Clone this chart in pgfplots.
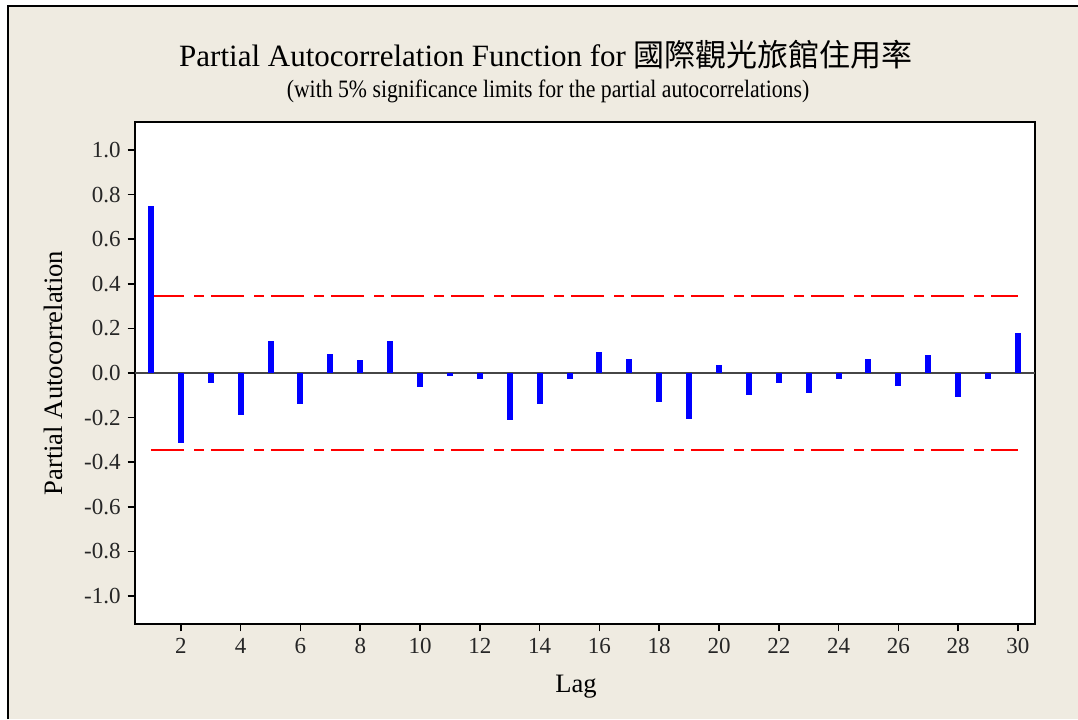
\documentclass[border=0pt]{standalone}
\usepackage{pgfplots}
\pgfplotsset{compat=1.18}
\usepackage{pgfplotstable}
\usepackage{fontspec}
\setmainfont{Liberation Serif}
\newfontfamily\cjk{Noto Sans CJK TC}
\definecolor{bgbeige}{RGB}{239,235,225}
\definecolor{barblue}{RGB}{0,0,255}
\definecolor{limred}{RGB}{255,0,0}
\pgfplotstableread{
lag pacf
1 0.750
2 -0.315
3 -0.043
4 -0.188
5 0.145
6 -0.138
7 0.087
8 0.060
9 0.145
10 -0.063
11 -0.013
12 -0.029
13 -0.213
14 -0.139
15 -0.029
16 0.096
17 0.062
18 -0.131
19 -0.206
20 0.036
21 -0.097
22 -0.046
23 -0.088
24 -0.028
25 0.062
26 -0.057
27 0.079
28 -0.106
29 -0.028
30 0.178
}\pacf
\begin{document}
\begin{tikzpicture}
\useasboundingbox (-67.5pt,-47.5pt) rectangle (471.5pt,312pt);
\fill[white] (-67.5pt,-47.5pt) rectangle (471.5pt,312pt);
\fill[bgbeige] (-63.5pt,-47.5pt) rectangle (471.5pt,309pt);
\draw[black, line width=1pt] (-63.5pt,-47.5pt) -- (-63.5pt,309pt) -- (471.5pt,309pt);
\node[anchor=base, font=\fontsize{15.5}{18}\selectfont] at (205.5pt,278.5pt)
  {Partial Autocorrelation Function for {\cjk 國際觀光旅館住用率}};
\node[anchor=base] at (206.5pt,263pt)
  {\scalebox{0.87}[1]{\fontsize{12.5}{15}\selectfont (with 5\% significance limits for the partial autocorrelations)}};
\begin{axis}[
  at={(0,0)}, anchor=south west,
  scale only axis, width=450pt, height=251pt,
  xmin=0.465, xmax=30.57, ymin=-1.1256, ymax=1.1256,
  axis background/.style={fill=white},
  axis line style={black, line width=1pt},
  tick align=outside, xtick pos=bottom, ytick pos=left,
  major tick length=3.7pt,
  every tick/.style={black, line width=0.8pt},
  xtick={2,4,...,30},
  ytick={-1,-0.8,-0.6,-0.4,-0.2,0,0.2,0.4,0.6,0.8,1},
  yticklabels={-1.0,-0.8,-0.6,-0.4,-0.2,0.0,0.2,0.4,0.6,0.8,1.0},
  /pgf/number format/assume math mode=true,
  ticklabel style={font=\fontsize{11.5}{13}\selectfont, text=black!85},
  xlabel={Lag}, ylabel={Partial Autocorrelation},
  xlabel style={at={(axis description cs:0.49,-0.1355)}, anchor=base, font=\fontsize{13.3}{15}\selectfont},
  ylabel style={at={(axis description cs:-0.08,0.5)}, anchor=base, font=\fontsize{13.3}{15}\selectfont},
  clip=false,
]
\addplot[gray!55!black, line width=0.9pt, forget plot] coordinates {(0.465,0) (30.57,0)};
\addplot[limred, line width=1pt, dash pattern=on 16.7pt off 5pt on 5pt off 3.3pt] coordinates {(1,0.344) (30,0.344)};
\addplot[limred, line width=1pt, dash pattern=on 16.7pt off 5pt on 5pt off 3.3pt] coordinates {(1,-0.344) (30,-0.344)};
\addplot[ycomb, barblue, line width=3pt, mark=none] table[x=lag, y=pacf] {\pacf};
\end{axis}
\end{tikzpicture}
\end{document}
